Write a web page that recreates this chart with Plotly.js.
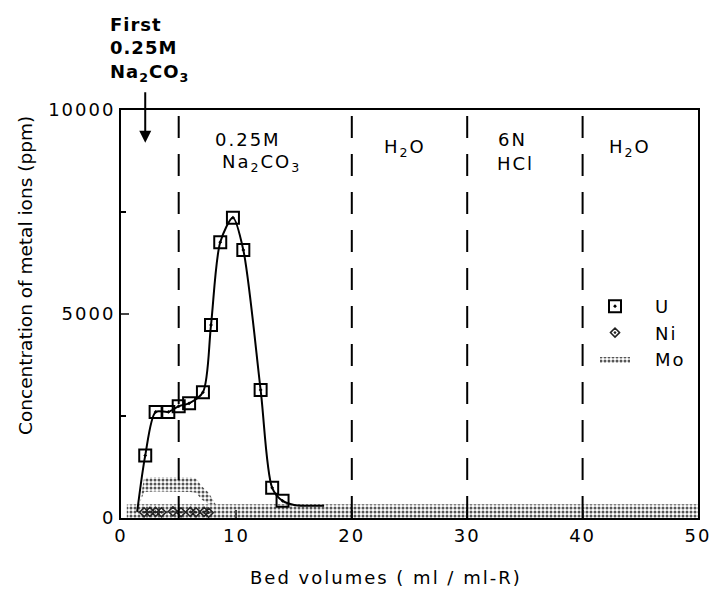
<!DOCTYPE html>
<html>
<head>
<meta charset="utf-8">
<script src="https://cdn.plot.ly/plotly-3.0.1.min.js"></script>
<style>
html,body{margin:0;padding:0;background:#fff;}
#chart{width:713px;height:590px;}
#chart .xtick text, #chart .ytick text, #chart .legendtext,
#chart .annotation .annotation-text { letter-spacing: 2px; }
#chart .annotation[data-index="0"] .annotation-text { letter-spacing: 0px; }
#chart .annotation[data-index="8"] .annotation-text { letter-spacing: 1px; }
#chart .legendtext { transform: translateX(20px); }
#chart .legend .scrollbox, #chart .legend g { clip-path: none !important; }
</style>
</head>
<body>
<div id="chart"></div>
<script>
// U (uranium): measured points
const uX = [2.1, 3.0, 4.1, 5.0, 5.9, 7.1, 7.8, 8.6, 9.7, 10.6, 12.1, 13.1, 14.0];
const uY = [1530, 2600, 2600, 2740, 2810, 3080, 4730, 6760, 7360, 6570, 3140, 740, 420];
// U curve lead-in and tail (no markers)
const uLeadX = [1.4];
const uLeadY = [150];
const uTailX = [15.0, 16.0, 17.0, 17.6];
const uTailY = [320, 300, 300, 300];
// Ni points
const niX = [2.0, 2.5, 3.0, 3.5, 4.5, 5.2, 6.0, 6.5, 7.2, 7.6];
const niY = [140, 150, 150, 140, 160, 140, 150, 140, 150, 130];
// Mo: base band (top edge) over the whole run
const moBaseX = [0.5, 1.5, 5, 10, 20, 30, 40, 50];
const moBaseY = [330, 340, 340, 340, 330, 330, 340, 340];
// Mo: raised band (lower and upper edges) in the first Na2CO3 stage
const moHumpX = [1.6, 2.0, 3.0, 4.0, 5.0, 6.0, 6.5, 7.0, 7.6, 8.2];
const moHumpLow = [340, 640, 650, 650, 650, 640, 620, 450, 350, 340];
const moHumpHigh = [340, 980, 1000, 1000, 1000, 990, 970, 780, 620, 340];
// Stage boundaries and labels
const stageBounds = [5, 20, 30, 40];
const stageLabels = [
  {x: 11.0, y: 9265, text: '0.25M'},
  {x: 12.2, y: 8700, text: 'Na<sub>2</sub>CO<sub>3</sub>'},
  {x: 24.6, y: 9070, text: 'H<sub>2</sub>O'},
  {x: 33.9, y: 9265, text: '6N'},
  {x: 34.2, y: 8700, text: 'HCl'},
  {x: 44.1, y: 9070, text: 'H<sub>2</sub>O'}
];
const firstLabel = 'First<br>0.25M<br>Na<sub>2</sub>CO<sub>3</sub>';
const firstArrowX = 2.1;
const yTitle = 'Concentration of metal ions (ppm)';
const xTitle = 'Bed volumes ( ml / ml-R)';

const FONT = 'DejaVu Sans, Liberation Sans, Arial, sans-serif';
const STIPPLE = {shape: '.', fgcolor: '#555', bgcolor: '#fff', size: 4, solidity: 0.45};

const traces = [
  { // Mo base band (legend entry)
    x: moBaseX, y: moBaseY, name: 'Mo', type: 'scatter', mode: 'lines',
    line: {width: 0, color: 'rgba(0,0,0,0)'},
    fill: 'tozeroy', fillpattern: STIPPLE, fillcolor: 'rgba(0,0,0,0)', legendrank: 3
  },
  { // Mo raised band lower edge
    x: moHumpX, y: moHumpLow, type: 'scatter', mode: 'lines', showlegend: false,
    line: {width: 0, color: 'rgba(0,0,0,0)'}
  },
  { // Mo raised band upper edge
    x: moHumpX, y: moHumpHigh, type: 'scatter', mode: 'lines', showlegend: false,
    line: {width: 0, color: 'rgba(0,0,0,0)'},
    fill: 'tonexty', fillpattern: STIPPLE, fillcolor: 'rgba(0,0,0,0)'
  },
  { // U curve
    x: [...uLeadX, ...uX, ...uTailX], y: [...uLeadY, ...uY, ...uTailY],
    type: 'scatter', mode: 'lines', showlegend: false,
    line: {color: '#000', width: 2, shape: 'spline', smoothing: 0.8}
  },
  { // U points
    x: uX, y: uY, name: 'U', type: 'scatter', mode: 'markers', legendrank: 1,
    marker: {symbol: 'square-open-dot', color: '#000', size: 12, line: {width: 2, color: '#000'}}
  },
  { // Ni points
    x: niX, y: niY, name: 'Ni', type: 'scatter', mode: 'markers', legendrank: 2,
    marker: {symbol: 'diamond-open-dot', color: '#222', size: 7, line: {width: 1.5, color: '#222'}}
  }
];

const shapes = stageBounds.map(b => ({
  type: 'line', xref: 'x', yref: 'y', x0: b, x1: b, y0: 0, y1: 10000,
  line: {color: '#000', width: 2, dash: '22px,16px'}
}));

const W = 713, H = 590, L = 121, R = 15, T = 110, B = 72;
const pw = W - L - R, ph = H - T - B;
const px2paperX = p => (p - L) / pw;
const py2paperY = p => (H - B - p) / ph;

const annotations = [];
// index 0: y axis title
annotations.push({
  x: px2paperX(25), y: py2paperY(276), xref: 'paper', yref: 'paper', text: yTitle,
  xanchor: 'center', yanchor: 'middle',
  showarrow: false, textangle: -90,
  font: {family: FONT, size: 18.5, color: '#000'}
});
// index 1: x axis title
annotations.push({
  x: px2paperX(386), y: py2paperY(577), xref: 'paper', yref: 'paper', text: xTitle,
  xanchor: 'center', yanchor: 'middle',
  showarrow: false, font: {family: FONT, size: 18, color: '#000'}
});
// index 2..7: stage labels
stageLabels.forEach(l => annotations.push({
  x: l.x, y: l.y, xref: 'x', yref: 'y', text: l.text, showarrow: false,
  font: {family: FONT, size: 18, color: '#000'}
}));
// index 8: "First" label
annotations.push({
  x: px2paperX(108), y: py2paperY(12), xref: 'paper', yref: 'paper', text: firstLabel,
  showarrow: false, xanchor: 'left', yanchor: 'top', align: 'left',
  font: {family: FONT, size: 18, color: '#000', weight: 'bold'}
});
// index 9: arrow
annotations.push({
  x: firstArrowX, y: 9200, xref: 'x', yref: 'y', text: '', showarrow: true,
  arrowhead: 2, arrowsize: 1.2, arrowwidth: 2, arrowcolor: '#000', ax: 0, ay: -52
});

const layout = {
  width: W, height: H,
  margin: {l: L, r: R, t: T, b: B},
  paper_bgcolor: '#fff', plot_bgcolor: '#fff',
  font: {family: FONT, size: 18, color: '#000'},
  showlegend: true,
  legend: {
    x: px2paperX(595), y: py2paperY(288), xanchor: 'left', yanchor: 'top',
    font: {family: FONT, size: 18, color: '#000'},
    bgcolor: 'rgba(0,0,0,0)', itemwidth: 30, traceorder: 'normal'
  },
  xaxis: {
    range: [0, 50], dtick: 10, tick0: 0, ticks: 'inside', ticklen: 8, tickwidth: 2,
    showline: true, linewidth: 2, linecolor: '#000', mirror: true, showgrid: false, zeroline: false,
    tickfont: {family: FONT, size: 18, color: '#000'}
  },
  yaxis: {
    range: [0, 10000], dtick: 5000, tick0: 0, tickformat: 'd',
    ticks: 'inside', ticklen: 8, tickwidth: 2,
    minor: {dtick: 2500, ticks: 'inside', ticklen: 5, tickwidth: 1.5, tickcolor: '#000'},
    showline: true, linewidth: 2, linecolor: '#000', mirror: true, showgrid: false, zeroline: false,
    tickfont: {family: FONT, size: 18, color: '#000'}
  },
  shapes: shapes,
  annotations: annotations
};

Plotly.newPlot('chart', traces, layout, {displayModeBar: false, staticPlot: true});
</script>
</body>
</html>
